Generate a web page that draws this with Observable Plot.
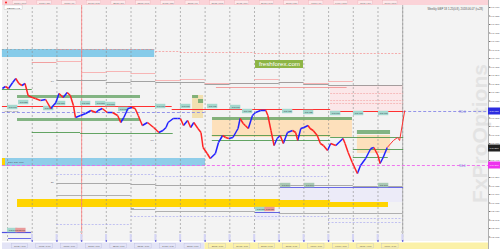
<!DOCTYPE html>
<html><head><meta charset="utf-8">
<script src="https://cdn.jsdelivr.net/npm/d3@7"></script>
<script src="https://cdn.jsdelivr.net/npm/@observablehq/plot@0.6"></script>
<style>
html,body{margin:0;padding:0;background:#ffffff;overflow:hidden}
#chart svg{display:block}
</style></head><body><div id="chart"></div>
<script>
// ---------------- data ----------------
const symbol = "GBPJPY,H1";
const title = "Weekly GBP 18 1.25(0.8), 2018.06.07 (r=28)";
const watermark = "FxProOptions";
const badge = "freshforex.com";
const xStart = -4.9, xEnd = 467.4;      // hours
const yLow = 145.63, yHigh = 148.00;    // price
const dayStarts = [0,24,48,72,96,120,144,168,192,216,240,264,288,312,336,360,384];
const topNames = ["16/05 • Wed","17/05 • Thu","18/05 • Fri","21/05 • Mon","22/05 • Tue","23/05 • Wed","24/05 • Thu","25/05 • Fri","28/05 • Mon","29/05 • Tue","30/05 • Wed","31/05 • Thu","01/06 • Fri","04/06 • Mon","05/06 • Tue","06/06 • Wed"];
const bottomNames = ["16/05 / 1:00","17/05 / 1:00","18/05 / 1:00","21/05 / 1:00","22/05 / 1:00","23/05 / 1:00","24/05 / 1:00","25/05 / 1:00","28/05 / 1:00","29/05 / 1:00","30/05 / 1:00","31/05 / 1:00","01/06 / 1:00","04/06 / 1:00","05/06 / 1:00","06/06 / 1:00"];
const tickValues = [147.970,147.885,147.800,147.715,147.630,147.545,147.460,147.375,147.290,147.205,147.120,147.035,146.950,146.865,146.780,146.695,146.610,146.525,146.440,146.355,146.270,146.185,146.100,146.015,145.930,145.845,145.760,145.675];

// hourly close path
const priceHours = [-5,-2,1,5,8,11,14,17,20,24,27,32,37,42,47,50,54,58,61,64,66,71,76,81,86,88,92,97,102,107,110,113,117,121,124,127,131,136,142,147,151,154,156,161,165,168,171,175,178,181,185,188,190,194,197,202,205,209,212,215,219,224,226,229,231,234,238,241,246,251,253,256,259,262,265,268,272,277,280,282,285,288,292,294,297,301,304,307,311,314,319,326,328,331,335,340,343,348,353,356,360,362,365,369];
const priceValues = [147.16,147.18,147.16,147.22,147.26,147.21,147.19,147.21,147.09,147.07,147.06,147.04,147.05,146.96,147.02,147.11,147.07,147.12,147.09,146.99,146.87,146.89,146.91,146.94,146.92,146.94,146.96,146.92,146.92,146.89,146.82,146.87,146.96,146.97,146.96,146.89,146.79,146.82,146.77,146.72,146.74,146.77,146.82,146.86,146.86,146.86,146.79,146.84,146.77,146.82,146.76,146.72,146.57,146.51,146.46,146.51,146.62,146.69,146.67,146.66,146.67,146.76,146.86,146.81,146.79,146.76,146.89,146.92,146.94,146.94,146.89,146.74,146.59,146.66,146.69,146.61,146.72,146.74,146.72,146.64,146.76,146.77,146.79,146.76,146.74,146.69,146.61,146.59,146.54,146.61,146.59,146.66,146.61,146.52,146.42,146.31,146.39,146.46,146.56,146.57,146.49,146.41,146.47,146.57];
// projection
const projHours = [369,375,379,381,386];
const projValues = [146.57,146.64,146.67,146.64,146.94];

// zones
const zoneFrom  = [-5,  -5,   9.7, 199.2, 340,   179.8, 313.9, 265.3, 313.9, 241];
const zoneTo    = [143, 192.4,370.2,335.2, 372.2, 190.5, 384.8, 313.9, 384.8, 265.3];
const zoneHigh  = [147.55,146.46,146.05,146.87,146.69,147.09,147.19,146.17,146.16,145.92];
const zoneLow   = [147.47,146.38,145.97,146.67,146.51,146.86,146.93,146.04,146.02,145.84];
const zoneKind  = ["weekly","daily","monthly","box","box","tan","pinkzone","lav","lav","lav"];

// green bars
const barFrom = [9.7, 9.7, 199.2, 340, 179.8, 185.6];
const barTo   = [129.2,129.2,335.2,372.2,185.6,190.5];
const barHigh = [147.09,146.86,146.87,146.74,147.09,147.05];
const barLow  = [147.06,146.83,146.84,146.70,147.06,147.01];

// horizontal levels
const lvlFrom  = [-5, 160, 314, -5, 385, -5, -5, 24, 71, 199, 199, 314, 336, 336, -5, 1, 241, 265.3, 203, 314, 314, 314, 24];
const lvlTo    = [160,314, 385, 192, 467.4, 467.4, 24, 71, 161, 314, 314, 385, 385, 370, 24, 24, 265.3, 384.8, 330, 385, 385, 385, 48];
const lvlPrice = [146.98,146.95,146.93,146.92,146.93,146.39,147.15,146.72,146.71,146.69,146.64,146.67,146.55,146.47,145.72,145.66,145.92,146.17,147.17,147.11,147.04,147.01,147.42];
const lvlKind  = ["red","red","red","blueDash","blueDash","magDash","green","green","green","green","green","green","green","green","blueThick","blue","blue","blue","pink","pinkDash","pinkDash","pinkDash","pink"];

// daily pivot steps
const pivDays   = [2,3,4,5,6,7,8,9,10,11,12,13,14,15];
const pivR2     = [147.55,147.55,147.55,147.55,147.53,147.52,147.52,147.52,147.51,147.51,147.51,147.51,147.51,147.51];
const pivR1     = [147.43,147.32,147.33,147.31,147.24,147.25,147.21,147.21,147.25,147.22,147.21,147.23,147.19,147.19];
const pivP      = [147.24,147.24,147.22,147.23,147.22,147.22,147.20,147.21,147.21,147.22,147.20,147.19,147.19,147.19];
const pivS1     = [146.21,146.21,146.21,146.20,146.19,146.19,146.19,146.19,146.19,146.19,146.19,146.19,146.18,146.18];
const pivS2     = [146.09,146.09,146.09,145.95,145.93,145.93,145.93,145.93,145.92,145.91,145.91,145.91,145.91,145.91];
const pivS3     = [146.30,146.30,146.30,146.30,146.28,146.28,146.28,146.28,146.28,146.28,146.28,145.82,145.82,145.82];
const pivS4     = [145.80,145.80,145.80,145.88,145.88,145.88,145.88,145.88,145.88,145.88,145.88,145.86,145.86,145.86];

// price tags
const tagHours  = [0,10.7,35,46.6,70.9,85.5,95.2,107.9,143.8,168.1,194.3,216.7,228.3,267.2,287.6,313.9,336.2,360.5, 0,8, 241,250, 265.3,288.6,360.5];
const tagPrices = [146.97,147.02,146.96,147.01,147.01,147.01,147.00,146.95,146.98,146.98,146.98,146.97,146.93,146.93,146.92,146.91,146.91,146.91, 145.74,145.74, 145.95,145.95, 146.19,146.19,146.19];
const tagKind   = ["t","t","t","t","t","t","t","t","t","t","t","t","t","t","t","t","t","t","t","r","t","r","g","g","g"];

// small level names
const noteTexts  = ["Daily S/D zone","Weekly Pivot","R4","S1","S2","PP"];
const noteHours  = [0.5, -3, 42, 42, 120, 139];
const notePrices = [146.42, 146.93, 147.23, 146.22, 145.96, 146.64];

// right side labels
const sideLabels = ["R0.0","S0.0"];
const sidePrices = [146.93,146.39];
const markPrices = [146.93,146.56,146.39];
const markKind = ["blue","black","mag"];

// ---------------- build ----------------
const zoneColor = {weekly:"#86cbe9",daily:"#8fcde9",monthly:"#ffd400",box:"#fde0bb",tan:"#f2e0b0",pinkzone:"#fbe7e9",lav:"#ecebf8"};
const lvlStyle = {
  red:{stroke:"#ff3030",w:1.2},blueDash:{stroke:"#8a8ae8",w:0.9,dash:"3,2"},magDash:{stroke:"#ee66ee",w:0.9,dash:"3,2"},
  green:{stroke:"#3d8f3d",w:0.8},blueThick:{stroke:"#5050e0",w:1.2},blue:{stroke:"#5a5ae6",w:0.9},
  pink:{stroke:"#f08a8a",w:0.8},pinkDash:{stroke:"#f4a0a0",w:0.6,dash:"2,1"}
};
const markFill = {blue:"#2d2de0",black:"#222222",mag:"#ee33ee"};
const zones = zoneFrom.map((f,i)=>({x1:f,x2:zoneTo[i],y1:zoneLow[i],y2:zoneHigh[i],k:zoneKind[i]}));
const bars = barFrom.map((f,i)=>({x1:f,x2:barTo[i],y1:barLow[i],y2:barHigh[i]}));
const lvls = lvlFrom.map((f,i)=>({x1:f,x2:lvlTo[i],y:lvlPrice[i],k:lvlKind[i]}));
const steps = (arr)=>pivDays.map((d,i)=>({x1:dayStarts[d],x2:dayStarts[d]+24,y:arr[i]}));
const segs = priceHours.slice(1).map((h,i)=>({x1:priceHours[i],y1:priceValues[i],x2:h,y2:priceValues[i+1],up:priceValues[i+1]>=priceValues[i]}));
const projSegs = projHours.slice(1).map((h,i)=>({x1:projHours[i],y1:projValues[i],x2:h,y2:projValues[i+1]}));
const tags = tagHours.map((h,i)=>({x:h,y:tagPrices[i],k:tagKind[i],t:tagPrices[i].toFixed(3)}));
const labelDays = dayStarts.slice(0,16).map((d,i)=>({x:d+12,top:topNames[i],bot:bottomNames[i]}));
const marksData = markPrices.map((p,i)=>({y:p,k:markKind[i]}));
const sideData = sideLabels.map((s,i)=>({t:s,y:sidePrices[i]}));
const notes = noteTexts.map((t,i)=>({t,x:noteHours[i],y:notePrices[i]}));
const laterDays = dayStarts.slice(1);
const shownTicks = tickValues.filter(t=>markPrices.every(m=>Math.abs(m-t)>0.05));

const marks = [
  Plot.rect([0],{x1:xStart,x2:xEnd,y1:yLow,y2:yHigh,fill:"#f3f3f3"}),
  Plot.text([watermark],{x:()=>459.5,y:()=>146.71,text:d=>d,rotate:-90,fontSize:21,fontWeight:"bold",fill:"#e3e3e3"}),
  ...Object.keys(zoneColor).map(k=>Plot.rect(zones.filter(z=>z.k===k),{x1:"x1",x2:"x2",y1:"y1",y2:"y2",fill:zoneColor[k]})),
  Plot.rect([0],{x1:-4.9,x2:-2,y1:146.38,y2:146.46,fill:"#ffd400"}),
  Plot.ruleY([147.55],{x1:-5,x2:143,stroke:"#999",strokeDasharray:"2,2",strokeWidth:0.6}),
  Plot.ruleX(dayStarts,{y1:yLow,y2:yHigh,stroke:"#8c8c8c",strokeDasharray:"2,2",strokeWidth:0.6}),
  Plot.ruleX([dayStarts[3]],{y1:yLow,y2:yHigh,stroke:"#ff8080",strokeWidth:0.8}),
  Plot.ruleX([dayStarts[16]],{y1:yLow,y2:yHigh,stroke:"#9a9a9a",strokeWidth:0.7}),
  Plot.ruleY(steps(pivR2),{x1:"x1",x2:"x2",y:"y",stroke:"#f58c8c",strokeDasharray:"2,1.5",strokeWidth:0.7}),
  Plot.ruleY(steps(pivR1),{x1:"x1",x2:"x2",y:"y",stroke:"#f7a5a5",strokeWidth:0.8}),
  Plot.ruleY(steps(pivP),{x1:"x1",x2:"x2",y:"y",stroke:"#9a9a9a",strokeWidth:0.9}),
  Plot.ruleY(steps(pivS1),{x1:"x1",x2:"x2",y:"y",stroke:"#a0a0a0",strokeWidth:0.9}),
  Plot.ruleY(steps(pivS2),{x1:"x1",x2:"x2",y:"y",stroke:"#a8a8a8",strokeWidth:0.9}),
  Plot.ruleY(steps(pivS3),{x1:"x1",x2:"x2",y:"y",stroke:"#a0a0f0",strokeDasharray:"2,1.5",strokeWidth:0.6}),
  Plot.ruleY(steps(pivS4),{x1:"x1",x2:"x2",y:"y",stroke:"#a0a0f0",strokeDasharray:"2,1.5",strokeWidth:0.6}),
  Plot.rect(bars,{x1:"x1",x2:"x2",y1:"y1",y2:"y2",fill:"#6fa86f",fillOpacity:0.85}),
  ...Object.keys(lvlStyle).map(k=>Plot.ruleY(lvls.filter(l=>l.k===k),{x1:"x1",x2:"x2",y:"y",stroke:lvlStyle[k].stroke,strokeWidth:lvlStyle[k].w,strokeDasharray:lvlStyle[k].dash})),
  Plot.rect(tags.filter(t=>t.k==="t"),{x1:"x",x2:d=>d.x+10,y1:d=>d.y-0.022,y2:d=>d.y+0.022,fill:"#a4d8ce"}),
  Plot.rect(tags.filter(t=>t.k==="r"),{x1:"x",x2:d=>d.x+10,y1:d=>d.y-0.022,y2:d=>d.y+0.022,fill:"#e89a9a"}),
  Plot.rect(tags.filter(t=>t.k==="g"),{x1:"x",x2:d=>d.x+10,y1:d=>d.y-0.022,y2:d=>d.y+0.022,fill:"#a9c9b4"}),
  Plot.text(tags,{x:d=>d.x+5,y:"y",text:"t",fontSize:2.2,fill:"#334"}),
  Plot.text(notes,{x:"x",y:"y",text:"t",textAnchor:"start",fontSize:2.4,fill:"#556"}),
  Plot.link(segs.filter(s=>s.up),{x1:"x1",y1:"y1",x2:"x2",y2:"y2",stroke:"#2222ff",strokeWidth:1.5}),
  Plot.link(segs.filter(s=>!s.up),{x1:"x1",y1:"y1",x2:"x2",y2:"y2",stroke:"#ff2424",strokeWidth:1.5}),
  Plot.link(projSegs,{x1:"x1",y1:"y1",x2:"x2",y2:"y2",stroke:"#ff3030",strokeWidth:1}),
  Plot.rect([badge],{x1:241,x2:287.6,y1:147.36,y2:147.44,fill:"#8db545"}),
  Plot.text([badge],{x:()=>264.3,y:()=>147.40,text:d=>d,fontSize:6.2,fill:"#ffffff"}),
  Plot.text(sideData,{x:()=>442,y:"y",text:"t",fontSize:3.2,fill:"#7777dd"}),
  Plot.rect([0],{x1:xStart,x2:xEnd,y1:147.99,y2:148.04,fill:"#fbd3d8"}),
  Plot.rect(labelDays,{x1:d=>d.x-7,x2:d=>d.x+7,y1:147.995,y2:148.035,fill:"#fde8ea",stroke:"#e9a9b0",strokeWidth:0.3}),
  Plot.text(labelDays,{x:"x",y:()=>148.015,text:"top",fontSize:2.2,fill:"#666"}),
  Plot.dot([0],{x:()=>-1.5,y:()=>148.02,r:1,fill:"#ff2020"}),
  Plot.rect([symbol],{x1:-2.9,x2:14.6,y1:147.945,y2:147.99,fill:"#ffffff",stroke:"#aaa",strokeWidth:0.3}),
  Plot.text([symbol],{x:()=>5.8,y:()=>147.967,text:d=>d,fontSize:2.5,fill:"#333"}),
  Plot.text([title],{x:()=>462,y:()=>147.95,text:d=>d,textAnchor:"end",fontSize:2.8,fill:"#555"}),
  Plot.rect(laterDays,{x1:d=>d-0.8,x2:d=>d+1.2,y1:145.63,y2:145.70,fill:"#d4d4f4"}),
  Plot.rect(laterDays,{x1:d=>d-0.8,x2:d=>d+1.2,y1:145.71,y2:145.73,fill:"#c8c8c8"}),
  Plot.dot(laterDays,{x:d=>d,y:()=>145.635,r:0.8,fill:"#3030d0"}),
  Plot.rect([0],{x1:xStart,x2:192,y1:145.55,y2:145.615,fill:"#e3e4f6"}),
  Plot.rect([0],{x1:192,x2:xEnd,y1:145.55,y2:145.615,fill:"#fbf1a8"}),
  Plot.rect(labelDays,{x1:d=>d.x-8,x2:d=>d.x+8,y1:145.56,y2:145.605,fill:"none",stroke:"#b0b0d8",strokeWidth:0.3}),
  Plot.text(labelDays,{x:"x",y:()=>145.583,text:"bot",fontSize:2.2,fill:"#555"}),
  Plot.ruleX([xEnd],{y1:145.55,y2:148.04,stroke:"#777",strokeWidth:0.6}),
  Plot.axisY(shownTicks,{anchor:"right",tickFormat:d3.format(".3f"),fontSize:2.5,tickSize:1.2,tickPadding:0.6,stroke:"#777",fill:"#555",label:null}),
  Plot.rect(marksData,{x1:xEnd,x2:xEnd+12,y1:d=>d.y-0.035,y2:d=>d.y+0.035,fill:d=>markFill[d.k]}),
  Plot.text(marksData,{x:()=>xEnd+1,y:"y",text:d=>d.y.toFixed(3),textAnchor:"start",fontSize:2.5,fill:"#fff"})
];

const chart = Plot.plot({
  width:500,height:249,
  marginLeft:2,marginRight:12,marginTop:4,marginBottom:8,
  style:{fontFamily:"Liberation Sans, Arial, sans-serif",background:"transparent",overflow:"visible"},
  x:{domain:[xStart,xEnd],axis:null},
  y:{domain:[yLow,yHigh],axis:null},
  color:{type:"identity"},
  marks
});
document.getElementById("chart").appendChild(chart);
</script></body></html>
